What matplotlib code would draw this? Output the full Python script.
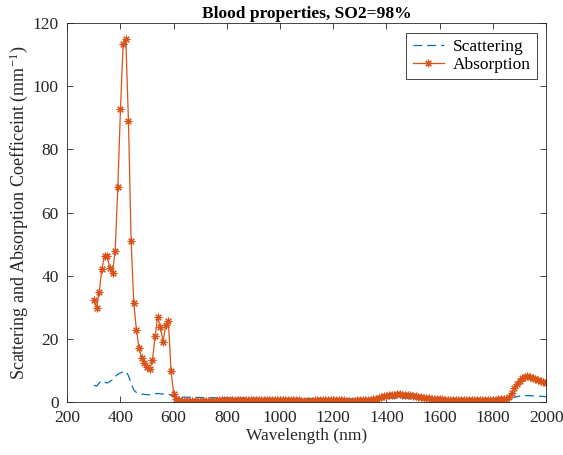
import matplotlib
matplotlib.use("Agg")
import matplotlib.pyplot as plt
import numpy as np

wavelength = list(range(300, 2001, 10))

absorption = [
    # 300-390
    32.3, 29.9, 34.9, 42.2, 46.2, 46.1, 42.4, 41.0, 47.7, 68.0,
    # 400-490
    92.9, 113.5, 115.1, 89.0, 51.0, 31.4, 22.7, 17.0, 14.0, 12.2,
    # 500-590
    11.2, 10.4, 13.2, 20.8, 27.0, 23.7, 19.1, 24.3, 25.7, 9.8,
    # 600-690
    2.6, 0.9, 0.5, 0.4, 0.35, 0.3, 0.3, 0.3, 0.3, 0.3,
    # 700-790
    0.3, 0.35, 0.35, 0.4, 0.4, 0.45, 0.45, 0.5, 0.5, 0.5,
    # 800-890
    0.55, 0.55, 0.6, 0.6, 0.6, 0.6, 0.65, 0.65, 0.65, 0.65,
    # 900-990
    0.65, 0.65, 0.65, 0.65, 0.65, 0.65, 0.7, 0.7, 0.7, 0.65,
    # 1000-1090
    0.65, 0.6, 0.6, 0.55, 0.55, 0.5, 0.5, 0.5, 0.45, 0.45,
    # 1100-1190
    0.45, 0.45, 0.45, 0.5, 0.5, 0.55, 0.6, 0.6, 0.65, 0.65,
    # 1200-1290
    0.65, 0.6, 0.55, 0.5, 0.5, 0.45, 0.45, 0.45, 0.45, 0.5,
    # 1300-1390
    0.5, 0.55, 0.6, 0.65, 0.75, 0.9, 1.1, 1.4, 1.7, 1.9,
    # 1400-1490
    2.0, 2.1, 2.2, 2.3, 2.4, 2.4, 2.35, 2.3, 2.2, 2.1,
    # 1500-1590
    1.95, 1.8, 1.65, 1.5, 1.35, 1.25, 1.15, 1.05, 0.95, 0.9,
    # 1600-1690
    0.85, 0.8, 0.75, 0.7, 0.7, 0.65, 0.65, 0.65, 0.65, 0.65,
    # 1700-1790
    0.65, 0.7, 0.75, 0.75, 0.75, 0.75, 0.75, 0.7, 0.7, 0.7,
    # 1800-1890
    0.7, 0.75, 0.8, 0.85, 0.95, 1.1, 1.6, 2.8, 4.3, 5.7,
    # 1900-1990
    6.8, 7.6, 8.0, 8.1, 8.0, 7.7, 7.3, 6.9, 6.5, 6.2,
    # 2000
    5.9,
]

scattering = [
    # 300-390
    5.3, 5.0, 6.0, 6.8, 6.3, 6.0, 6.5, 7.0, 8.0, 8.8,
    # 400-490
    9.2, 9.6, 9.8, 8.3, 5.8, 3.8, 3.0, 2.7, 2.5, 2.4,
    # 500-590
    2.3, 2.3, 2.4, 2.6, 2.7, 2.6, 2.5, 2.6, 2.6, 2.1,
    # 600-690
    1.7, 1.6, 1.6, 1.55, 1.55, 1.5, 1.5, 1.5, 1.45, 1.45,
    # 700-790
    1.45, 1.4, 1.4, 1.4, 1.4, 1.35, 1.35, 1.35, 1.35, 1.3,
    # 800-890
    1.3, 1.3, 1.3, 1.25, 1.25, 1.25, 1.25, 1.25, 1.2, 1.2,
    # 900-990
    1.2, 1.2, 1.2, 1.2, 1.15, 1.15, 1.15, 1.15, 1.15, 1.15,
    # 1000-1090
    1.1, 1.1, 1.1, 1.1, 1.1, 1.1, 1.1, 1.1, 1.1, 1.1,
    # 1100-1190
    1.1, 1.1, 1.1, 1.05, 1.05, 1.05, 1.05, 1.05, 1.05, 1.05,
    # 1200-1290
    1.05, 1.05, 1.0, 1.0, 1.0, 1.0, 1.0, 1.0, 1.0, 1.0,
    # 1300-1390
    1.0, 1.0, 1.0, 1.0, 1.0, 1.0, 1.05, 1.1, 1.15, 1.2,
    # 1400-1490
    1.2, 1.25, 1.25, 1.25, 1.25, 1.2, 1.2, 1.15, 1.1, 1.05,
    # 1500-1590
    1.0, 1.0, 0.95, 0.95, 0.95, 0.95, 0.9, 0.9, 0.9, 0.9,
    # 1600-1690
    0.9, 0.9, 0.9, 0.9, 0.9, 0.9, 0.9, 0.9, 0.9, 0.9,
    # 1700-1790
    0.9, 0.9, 0.9, 0.9, 0.9, 0.9, 0.9, 0.9, 0.9, 0.9,
    # 1800-1890
    0.9, 0.9, 0.9, 0.9, 0.95, 1.0, 1.1, 1.3, 1.5, 1.7,
    # 1900-1990
    1.85, 1.95, 2.0, 2.0, 2.0, 1.95, 1.9, 1.85, 1.8, 1.75,
    # 2000
    1.7,
]

x_ticks = [200, 400, 600, 800, 1000, 1200, 1400, 1600, 1800, 2000]
y_ticks = [0, 20, 40, 60, 80, 100, 120]

plt.rcParams['font.family'] = ['Liberation Serif', 'DejaVu Serif']
plt.rcParams['mathtext.fontset'] = 'stix'

fig = plt.figure(figsize=(5.63, 4.55), dpi=100)
ax = fig.add_axes([0.1195, 0.1165, 0.8505, 0.8325])

axis_color = '#262626'
ax.plot(wavelength, scattering, color='#0072BD', lw=0.9, dashes=(7, 4),
        label='Scattering')
ax.plot(wavelength, absorption, color='#D95319', lw=0.9, marker=(8, 2, 0),
        markersize=5.5, markeredgewidth=0.8, label='Absorption')

ax.set_xlim(200, 2000)
ax.set_ylim(0, 120)
ax.set_xticks(x_ticks)
ax.set_yticks(y_ticks)
ax.tick_params(direction='in', top=True, right=True, labelsize=12.5,
               colors=axis_color, length=4, width=0.6)
ax.tick_params(axis='x', pad=6)
ax.tick_params(axis='y', pad=6)
for s in ax.spines.values():
    s.set_color(axis_color)
    s.set_linewidth(0.6)

ax.set_xlabel('Wavelength (nm)', fontsize=12.5, color=axis_color, labelpad=1)
ax.set_ylabel('Scattering and Absorption Coefficeint (mm$^{\\mathregular{-1}}$)',
              fontsize=13, color=axis_color, labelpad=2)
ax.set_title('Blood properties, SO2=98%', fontsize=12.5, fontweight='bold',
             color='black', pad=4)

leg = ax.legend(loc='upper right', fontsize=12.5, frameon=True, fancybox=False,
                edgecolor=axis_color, framealpha=1, borderpad=0.35,
                handlelength=1.8, handletextpad=0.5, labelspacing=0.1,
                borderaxespad=0.55)
leg.get_frame().set_linewidth(0.6)

fig.savefig('out.png', dpi=100)
